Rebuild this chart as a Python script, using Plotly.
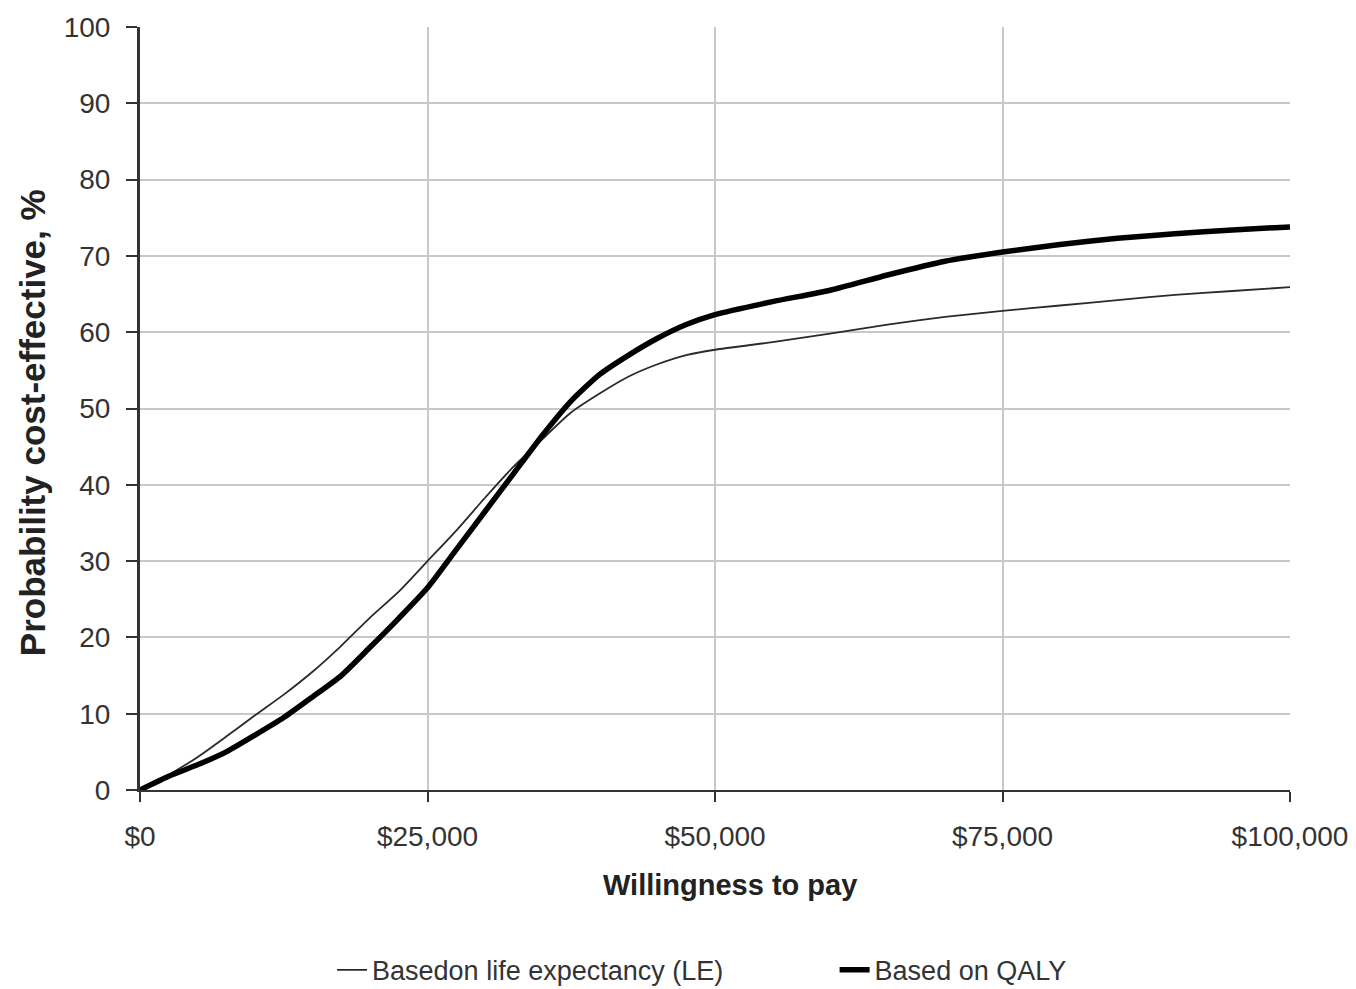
import plotly.graph_objects as go

wtp = [0, 2500, 5000, 7500, 10000, 12500, 15000, 17500, 20000, 22500, 25000,
       27500, 30000, 32500, 35000, 37500, 40000, 42500, 45000, 47500, 50000,
       55000, 60000, 65000, 70000, 75000, 80000, 85000, 90000, 95000, 100000]
le = [0, 2.0, 4.3, 7.0, 9.8, 12.5, 15.5, 18.9, 22.6, 26.0, 30.0,
      34.0, 38.3, 42.4, 46.0, 49.5, 52.0, 54.2, 55.8, 57.0, 57.7,
      58.7, 59.8, 61.0, 62.0, 62.8, 63.5, 64.2, 64.9, 65.4, 65.9]
qaly = [0, 1.8, 3.3, 5.0, 7.2, 9.5, 12.2, 15.0, 18.7, 22.5, 26.5,
        31.5, 36.5, 41.5, 46.5, 51.0, 54.5, 57.0, 59.2, 61.0, 62.3,
        64.0, 65.5, 67.5, 69.3, 70.5, 71.5, 72.3, 72.9, 73.4, 73.8]

x_ticks = [0, 25000, 50000, 75000, 100000]
x_labels = ["$0", "$25,000", "$50,000", "$75,000", "$100,000"]
y_ticks = [0, 10, 20, 30, 40, 50, 60, 70, 80, 90, 100]

font = "Liberation Sans, Arial, sans-serif"
tick_col = "#333333"

fig = go.Figure()
fig.add_trace(go.Scatter(x=wtp, y=le, mode="lines", name="Basedon life expectancy (LE)",
                         legend="legend",
                         line=dict(color="#2a2a2a", width=1.8, shape="spline", smoothing=0.6)))
fig.add_trace(go.Scatter(x=wtp, y=qaly, mode="lines", name="Based on QALY",
                         legend="legend2",
                         line=dict(color="#000000", width=5.5, shape="spline", smoothing=0.6)))

leg_font = dict(family=font, size=27, color="#333333")
fig.update_layout(
    width=1356, height=989,
    margin=dict(l=132, r=74, t=19, b=207),
    paper_bgcolor="white", plot_bgcolor="white",
    showlegend=True,
    legend=dict(orientation="h", x=0.167, xanchor="left", y=0.027, yanchor="middle",
                yref="container", font=leg_font, bgcolor="rgba(0,0,0,0)"),
    legend2=dict(orientation="h", x=0.604, xanchor="left", y=0.027, yanchor="middle",
                 yref="container", font=leg_font, bgcolor="rgba(0,0,0,0)"),
    xaxis=dict(range=[0, 100000], tickvals=x_ticks, ticktext=x_labels,
               showgrid=True, gridcolor="#c8c8c8", gridwidth=2,
               showline=True, linecolor="#333333", linewidth=2,
               ticks="outside", ticklen=10, tickwidth=2, tickcolor="#333333",
               ticklabelstandoff=10, ticklabeloverflow="allow",
               tickfont=dict(family=font, size=28, color=tick_col),
               zeroline=False, automargin=False),
    yaxis=dict(range=[0, 100], tickvals=y_ticks,
               showgrid=True, gridcolor="#c8c8c8", gridwidth=2,
               showline=True, linecolor="#333333", linewidth=3,
               ticks="outside", ticklen=11, tickwidth=2, tickcolor="#333333",
               ticklabelstandoff=10, ticklabeloverflow="allow",
               tickfont=dict(family=font, size=28, color=tick_col),
               zeroline=False, automargin=False),
    annotations=[
        dict(text="<b>Willingness to pay</b>", xref="paper", yref="paper",
             x=0.513, y=-0.125, xanchor="center", yanchor="middle", showarrow=False,
             font=dict(family=font, size=29, color="#222222")),
        dict(text="<b>Probability cost-effective, %</b>", xref="paper", yref="paper",
             x=-0.094, y=0.482, xanchor="center", yanchor="middle", showarrow=False,
             textangle=-90, font=dict(family=font, size=35, color="#222222")),
    ],
)

fig.write_html("out.html")
